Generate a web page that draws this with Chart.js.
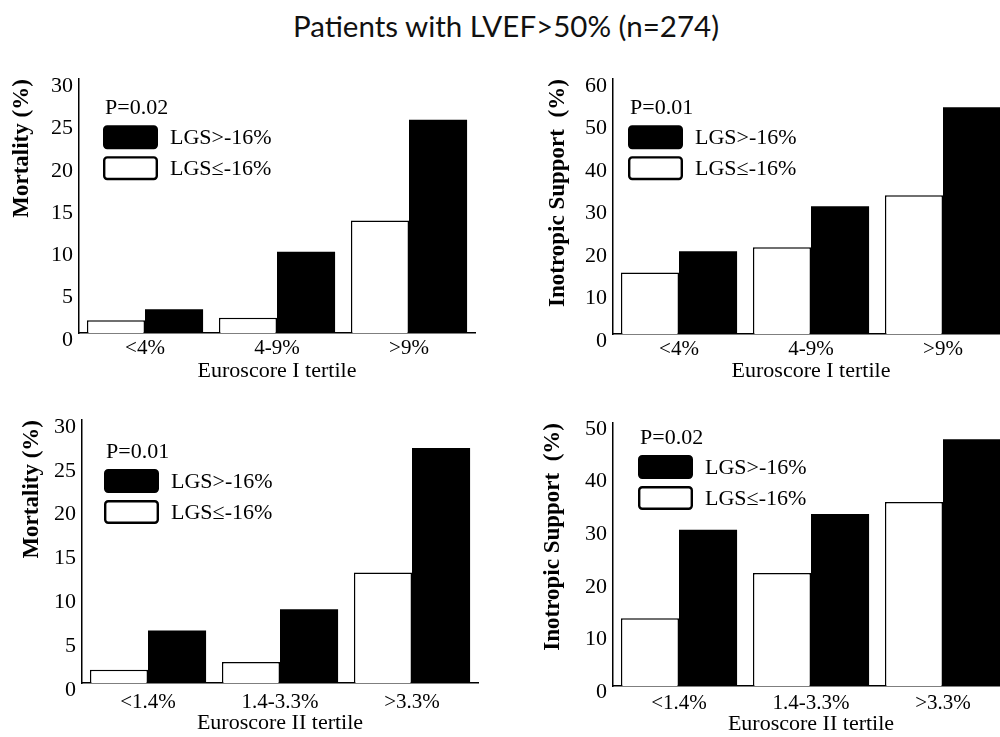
<!DOCTYPE html>
<html>
<head>
<meta charset="utf-8">
<script src="https://cdn.jsdelivr.net/npm/chart.js@4"></script>
<style>
  body { margin: 0; width: 1000px; height: 737px; overflow: hidden; background: #fff; position: relative; }
  #title { position: absolute; left: 0; top: 8px; width: 1012px; text-align: center; font-family: Lato, sans-serif; font-size: 29.5px; color: #111; }
  canvas { position: absolute; }
</style>
</head>
<body>
<div id="title">Patients with LVEF&gt;50% (n=274)</div>
<canvas id="c1" width="500" height="330" style="left:0;top:60px"></canvas>
<canvas id="c2" width="540" height="330" style="left:500px;top:60px"></canvas>
<canvas id="c3" width="500" height="347" style="left:0;top:390px"></canvas>
<canvas id="c4" width="540" height="347" style="left:500px;top:390px"></canvas>
<script>
// categories
const tertile1 = ["<4%", "4-9%", ">9%"];
const tertile2 = ["<1.4%", "1.4-3.3%", ">3.3%"];

// series (white = LGS≤-16%, black = LGS>-16%)
const mortality1Low = [1.5, 1.8, 13.3];
const mortality1High = [2.8, 9.6, 25.2];
const inotropic1Low = [14.5, 20.4, 32.7];
const inotropic1High = [19.5, 30.1, 53.4];
const mortality2Low = [1.5, 2.4, 12.6];
const mortality2High = [6.0, 8.4, 26.8];
const inotropic2Low = [12.9, 21.5, 35.0];
const inotropic2High = [29.7, 32.7, 46.9];

// tick setup and annotations
const yMax = [30, 60, 30, 50];
const yStep = [5, 10, 5, 10];
const pValues = ["P=0.02", "P=0.01", "P=0.01", "P=0.02"];
const seriesLabels = ["LGS≤-16%", "LGS>-16%"];

const SERIF = "'Liberation Serif', 'Times New Roman', serif";

// draws the "P=..." note and the two legend boxes inside the plot
const boxLegend = {
  id: "boxLegend",
  afterDraw(chart, args, opts) {
    const ctx = chart.ctx;
    const area = chart.chartArea;
    const x = area.left + opts.x;
    const y = area.top + opts.y;
    ctx.save();
    ctx.font = "22px " + SERIF;
    ctx.fillStyle = "#000";
    ctx.textBaseline = "middle";
    ctx.textAlign = "left";
    ctx.fillText(opts.pText, x + 2, y - 17);
    const sets = chart.data.datasets.slice().reverse();
    sets.forEach((ds, i) => {
      const by = y + i * 31;
      ctx.beginPath();
      ctx.roundRect(x + 1.2, by + 1.2, 52.6, 21.6, 3);
      ctx.fillStyle = ds.backgroundColor;
      ctx.fill();
      ctx.lineWidth = 2.4;
      ctx.strokeStyle = "#000";
      ctx.stroke();
      ctx.fillStyle = "#000";
      ctx.fillText(ds.label, x + 67, by + 13);
    });
    ctx.restore();
  },
};

function makePanel(id, p) {
  const ctx = document.getElementById(id).getContext("2d");
  return new Chart(ctx, {
    type: "bar",
    data: {
      labels: p.labels,
      datasets: [
        {
          label: seriesLabels[0],
          data: p.low,
          backgroundColor: "#fff",
          borderColor: "#000",
          borderWidth: 1.5,
          categoryPercentage: 0.88,
          barPercentage: 1,
        },
        {
          label: seriesLabels[1],
          data: p.high,
          backgroundColor: "#000",
          borderColor: "#000",
          borderWidth: 0,
          categoryPercentage: 0.88,
          barPercentage: 1,
        },
      ],
    },
    options: {
      responsive: false,
      animation: false,
      layout: { padding: { top: p.padTop, right: p.padRight, left: 0, bottom: 0 } },
      plugins: {
        legend: { display: false },
        tooltip: { enabled: false },
        boxLegend: { x: p.legX, y: p.legY, pText: p.pText },
      },
      scales: {
        x: {
          grid: { display: false, drawTicks: false },
          border: { display: true, color: "#000", width: 1.5 },
          ticks: { color: "#000", font: { family: SERIF, size: 21 }, padding: p.xTickPad, maxRotation: 0, autoSkip: false },
          title: { display: true, text: p.xTitle, color: "#000", font: { family: SERIF, size: 22 }, padding: { top: 0, bottom: p.xTitlePad } },
          afterFit(scale) { scale.height = p.xHeight; },
        },
        y: {
          min: 0,
          max: p.max,
          grid: { display: false, drawTicks: false },
          border: { display: true, color: "#000", width: 1.5 },
          ticks: { stepSize: p.step, color: "#000", font: { family: SERIF, size: 22 }, padding: 6, labelOffset: p.labelOffset },
          title: { display: true, text: p.yTitle, align: "end", color: "#000", font: { family: SERIF, size: 23, weight: "bold" }, padding: { top: p.yTitlePad, bottom: 0 } },
          afterFit(scale) { scale.width = p.yWidth; },
        },
      },
    },
    plugins: [boxLegend],
  });
}

makePanel("c1", {
  labels: tertile1, low: mortality1Low, high: mortality1High,
  max: yMax[0], step: yStep[0], pText: pValues[0],
  xTitle: "Euroscore I tertile", yTitle: "Mortality (%)",
  padTop: 12, padRight: 25, yWidth: 79, xHeight: 57,
  xTickPad: 3, xTitlePad: 6, yTitlePad: 8, labelOffset: 7,
  legX: 24, legY: 46,
});

makePanel("c2", {
  labels: tertile1, low: inotropic1Low, high: inotropic1High,
  max: yMax[1], step: yStep[1], pText: pValues[1],
  xTitle: "Euroscore I tertile", yTitle: "Inotropic Support  (%)",
  padTop: 12, padRight: 31, yWidth: 113, xHeight: 56,
  xTickPad: 3, xTitlePad: 6, yTitlePad: 44, labelOffset: 7,
  legX: 15, legY: 46,
});

makePanel("c3", {
  labels: tertile2, low: mortality2Low, high: mortality2High,
  max: yMax[2], step: yStep[2], pText: pValues[2],
  xTitle: "Euroscore II tertile", yTitle: "Mortality (%)",
  padTop: 30, padRight: 22, yWidth: 82, xHeight: 54,
  xTickPad: 7, xTitlePad: 1, yTitlePad: 18, labelOffset: 7,
  legX: 22, legY: 49,
});

makePanel("c4", {
  labels: tertile2, low: inotropic2Low, high: inotropic2High,
  max: yMax[3], step: yStep[3], pText: pValues[3],
  xTitle: "Euroscore II tertile", yTitle: "Inotropic Support  (%)",
  padTop: 33, padRight: 31, yWidth: 113, xHeight: 51,
  xTickPad: 5, xTitlePad: 0, yTitlePad: 39, labelOffset: 6,
  legX: 25, legY: 32,
});
</script>
</body>
</html>
